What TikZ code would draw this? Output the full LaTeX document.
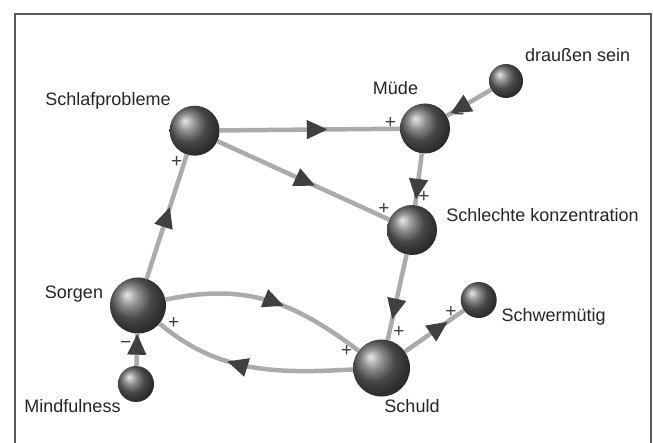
\documentclass[tikz,border=0pt]{standalone}
\usepackage{fontspec}
\setmainfont{Liberation Sans}
\usetikzlibrary{arrows.meta,decorations.markings}
\begin{document}
\begin{tikzpicture}[x=1pt,y=-1pt,
  ball/.style={circle, inner sep=0pt, minimum size=#1, shading=ball, ball color=black!60},
  lbl/.style={font=\fontsize{18}{20}\selectfont, text=black!85, inner sep=0pt, anchor=base},
  sgn/.style={font=\fontsize{19}{21}\selectfont, text=black!75, inner sep=0pt},
  link/.style={draw=black!33, line width=4.5pt},
  midarrow/.style={postaction={decorate, decoration={markings,
      mark=at position #1 with {\arrow{Triangle[length=21pt,width=18pt,color=black!75]}}}}},
]
\useasboundingbox (0,0) rectangle (653,443);
\fill[white] (0,0) rectangle (653,443);
\draw[black!65, line width=1.4pt] (15,443) -- (15,14) -- (651,14) -- (651,443);

% spheres
\node[ball=50pt] (schlaf) at (194.6,130.7) {};
\node[ball=50pt] (muede) at (425,128.5) {};
\node[ball=34pt] (draussen) at (506,81) {};
\node[ball=50pt] (konz) at (412,230) {};
\node[ball=56pt] (sorgen) at (138,305.5) {};
\node[ball=36pt] (mind) at (136,384) {};
\node[ball=57pt] (schuld) at (381.5,368) {};
\node[ball=36pt] (schwer) at (478.7,300) {};

% labels
\node[lbl] (tschlaf) at (108,106) {Schlafprobleme};
\node[lbl] (tmuede) at (395.5,95) {Müde};
\node[lbl] (tdraussen) at (577.6,62) {draußen sein};
\node[lbl] (tkonz) at (542.5,221.5) {Schlechte konzentration};
\node[lbl] (tsorgen) at (74,298.5) {Sorgen};
\node[lbl] (tmind) at (72.5,412.5) {Mindfulness};
\node[lbl] (tschuld) at (412,412.5) {Schuld};
\node[lbl] (tschwer) at (553.6,321.5) {Schwermütig};

% connectors
\draw[link, midarrow=0.58] (sorgen) -- (schlaf);
\draw[link, midarrow=0.6] (schlaf) -- (muede);
\draw[link, midarrow=0.57] (schlaf) -- (konz);
\draw[link, midarrow=0.9] (muede) -- (konz);
\draw[link, midarrow=0.92] (draussen) -- (muede);
\draw[link, midarrow=0.76] (konz) -- (schuld);
\draw[link, midarrow=1] (mind) -- (sorgen);
\draw[link, midarrow=0.73] (schuld) -- (schwer);
\draw[link, midarrow=0.58] (sorgen) to[out=12, in=143, looseness=1.05] (schuld);
\draw[link, midarrow=0.62] (schuld) to[out=183, in=-40] (sorgen);

% signs
\node[sgn] (s1) at (176.6,162) {+};
\node[sgn] (s2) at (390.5,123) {+};
\node[sgn] (s3) at (384,209) {+};
\node[sgn] (s4) at (424,197) {+};
\node[sgn] (s5) at (459,117) {−};
\node[sgn] (s6) at (399,332) {+};
\node[sgn] (s7) at (346.6,351) {+};
\node[sgn] (s8) at (173.7,323) {+};
\node[sgn] (s9) at (125.6,345) {−};
\node[sgn] (s10) at (451,312) {+};
\end{tikzpicture}
\end{document}
